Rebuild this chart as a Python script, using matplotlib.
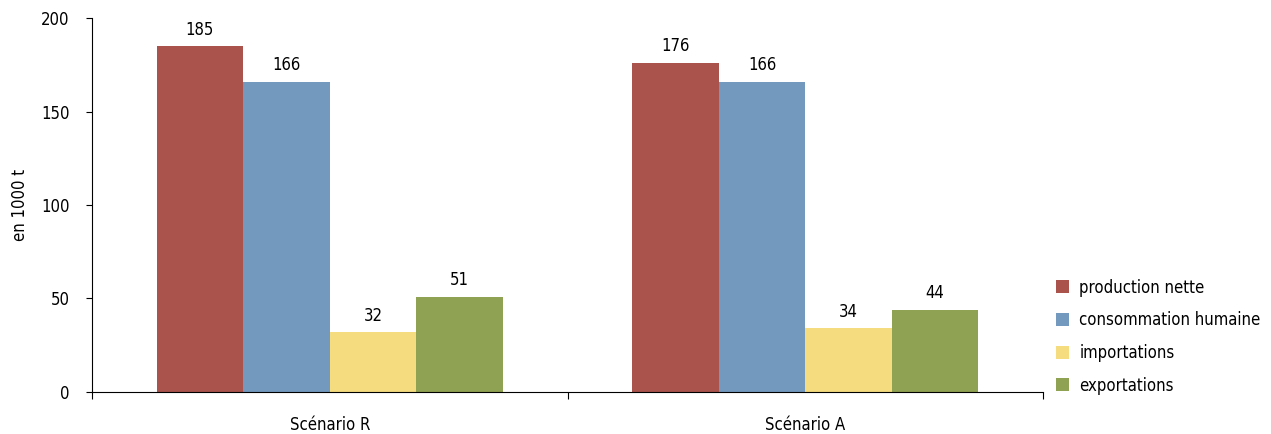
import numpy as np
import matplotlib.pyplot as plt

plt.rcParams['font.family'] = ['DejaVu Sans']
plt.rcParams['font.stretch'] = 'condensed'

scenarios = ['Scénario R', 'Scénario A']
series = ['production nette', 'consommation humaine', 'importations', 'exportations']
values = [
    [185, 176],
    [166, 166],
    [32, 34],
    [51, 44],
]
colors = ['#A9534C', '#7399BE', '#F5DC7E', '#8FA152']

fig = plt.figure(figsize=(12.71, 4.34), dpi=100)
ax = fig.add_axes([0.0724, 0.0968, 0.7482, 0.8617])

x = np.arange(len(scenarios))
bw = 0.182
for i, (name, vals) in enumerate(zip(series, values)):
    pos = x + (i - 1.5) * bw
    bars = ax.bar(pos, vals, width=bw, color=colors[i], label=name)
    for b, v in zip(bars, vals):
        ax.text(b.get_x() + b.get_width() / 2, v + 4, str(v),
                ha='center', va='bottom', fontsize=12)

ax.set_xlim(-0.5, 1.5)
ax.set_ylim(0, 200)
ax.set_yticks([0, 50, 100, 150, 200])
# category boundaries get the tick marks, names sit in the middle
ax.set_xticks([-0.5, 0.5, 1.5], minor=False)
ax.set_xticklabels(['', '', ''])
ax.set_xticks(x, minor=True)
ax.set_xticklabels(scenarios, minor=True)
ax.tick_params(axis='x', which='minor', length=0, pad=17, labelsize=12)
ax.tick_params(axis='x', which='major', direction='out', length=5)
ax.tick_params(axis='y', direction='out', length=4, labelsize=12, pad=12)
ax.set_ylabel('en 1000 t', fontsize=12, labelpad=9)
for s in ['top', 'right']:
    ax.spines[s].set_visible(False)

ax.legend(loc='center left', bbox_to_anchor=(1.003, 0.148), frameon=False,
          fontsize=12, handlelength=0.8, handleheight=0.8, labelspacing=0.88,
          handletextpad=0.6, borderaxespad=0.2)

fig.savefig('out.png', dpi=100)
